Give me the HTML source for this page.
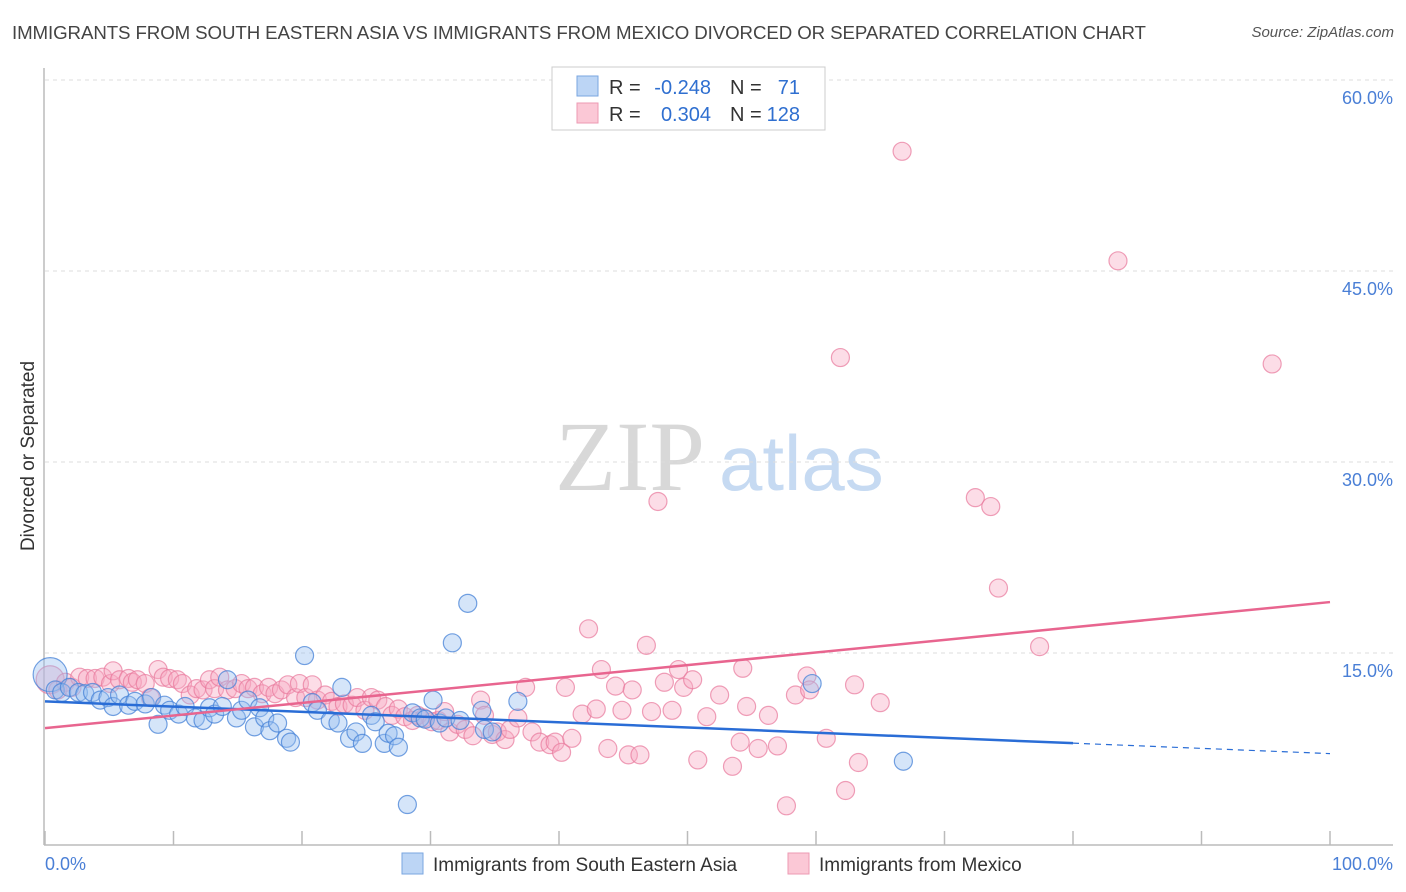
<!DOCTYPE html>
<html><head><meta charset="utf-8">
<style>
html,body{margin:0;padding:0;background:#fff;}
body{width:1406px;height:892px;position:relative;overflow:hidden;font-family:"Liberation Sans",sans-serif;}
#title{position:absolute;left:12px;top:22px;font-size:18.7px;color:#444;letter-spacing:-0.1px;}
#source{position:absolute;right:12px;top:24px;font-size:15px;color:#555;font-style:italic;}
svg{position:absolute;left:0;top:0;}
</style></head>
<body>
<div id="title">IMMIGRANTS FROM SOUTH EASTERN ASIA VS IMMIGRANTS FROM MEXICO DIVORCED OR SEPARATED CORRELATION CHART</div>
<div id="source">Source: ZipAtlas.com</div>
<svg id="chart" width="1406" height="892"></svg>
<script>
const yTicks=[15,30,45,60];
const yTickLabels=["15.0%","30.0%","45.0%","60.0%"];
const xTicks=[0,10,20,30,40,50,60,70,80,90,100];
const blueX=[0.4,0.8,1.3,1.9,2.6,3.1,3.7,4.3,4.9,5.3,5.8,6.5,7.0,7.8,8.3,8.8,9.3,9.7,10.4,10.9,11.7,12.3,12.8,13.2,13.8,14.2,14.9,15.3,15.8,16.3,16.7,17.1,17.5,18.1,18.8,19.1,20.2,20.8,21.2,22.2,22.8,23.1,23.7,24.2,24.7,25.4,25.7,26.4,26.7,27.2,27.5,28.2,28.6,29.2,29.6,30.2,30.7,31.2,31.7,32.3,32.9,34.0,34.2,34.8,36.8,59.7,66.8];
const blueY=[13.3,12.1,11.9,12.3,11.9,11.8,11.9,11.3,11.5,10.8,11.7,10.9,11.2,11.0,11.5,9.4,10.9,10.5,10.2,10.8,9.9,9.7,10.7,10.2,10.8,12.9,9.9,10.5,11.3,9.2,10.7,9.9,8.9,9.5,8.3,8.0,14.8,11.1,10.5,9.7,9.5,12.3,8.3,8.8,7.9,10.1,9.6,7.9,8.7,8.5,7.6,3.1,10.3,9.9,9.8,11.3,9.5,9.9,15.8,9.7,18.9,10.5,9.0,8.8,11.2,12.6,6.5];
const pinkX=[0.4,1.0,1.6,2.1,2.7,3.3,3.9,4.5,5.1,5.3,5.8,6.5,6.8,7.2,7.8,8.2,8.8,9.2,9.7,10.3,10.7,11.3,11.8,12.3,12.8,13.2,13.6,14.2,14.8,15.3,15.8,16.3,16.9,17.4,17.9,18.4,18.9,19.5,19.8,20.3,20.8,21.2,21.8,22.3,22.8,23.3,23.9,24.3,24.9,25.4,25.9,26.5,27.0,27.5,28.0,28.6,29.0,29.5,30.1,30.6,31.1,31.5,32.1,32.7,33.3,33.9,34.2,34.8,35.2,35.8,36.2,36.8,37.4,37.9,38.5,39.3,39.7,40.2,40.5,41.0,41.8,42.3,42.9,43.3,43.8,44.4,44.9,45.4,45.7,46.3,46.8,47.2,47.7,48.2,48.8,49.3,49.7,50.4,50.8,51.5,52.5,53.5,54.1,54.3,54.6,55.5,56.3,57.0,57.7,58.4,59.3,59.5,60.8,61.9,62.3,63.0,63.3,65.0,66.7,72.4,73.6,74.2,77.4,83.5,95.5];
const pinkY=[12.9,12.1,12.7,12.3,13.1,13.0,13.0,13.1,12.6,13.6,12.9,13.0,12.7,12.9,12.6,11.5,13.7,13.1,13.0,12.9,12.6,11.7,12.2,12.1,12.9,12.2,13.1,12.1,12.2,12.6,12.2,12.3,11.8,12.3,11.8,12.1,12.5,11.5,12.6,11.5,12.5,11.3,11.7,11.2,10.8,11.0,10.9,11.5,10.5,11.5,11.3,10.8,10.1,10.6,10.0,9.7,10.1,9.9,9.6,9.7,10.4,8.8,9.4,9.0,8.5,11.3,10.1,8.6,8.8,8.2,9.0,9.9,12.3,8.8,8.0,7.8,8.0,7.2,12.3,8.3,10.2,16.9,10.6,13.7,7.5,12.4,10.5,7.0,12.1,7.0,15.6,10.4,26.9,12.7,10.5,13.7,12.3,12.9,6.6,10.0,11.7,6.1,8.0,13.8,10.8,7.5,10.1,7.7,3.0,11.7,13.2,12.1,8.3,38.2,4.2,12.5,6.4,11.1,54.4,27.2,26.5,20.1,15.5,45.8,37.7];
const blueTrend=[11.2,7.1];
const blueTrendSolidEnd=80;
const pinkTrend=[9.1,19.0];

const svg=document.getElementById('chart');
const NS='http://www.w3.org/2000/svg';
const X0=45,X1=1330,Y0=844,PXPER=191/15;
const xs=v=>X0+(X1-X0)*v/100;
const ys=v=>Y0-v*PXPER;
function mk(tag,attrs,parent){const e=document.createElementNS(NS,tag);for(const k in attrs)e.setAttribute(k,attrs[k]);(parent||svg).appendChild(e);return e;}

let wm=mk('text',{x:555,y:490,'font-family':'Liberation Serif, serif','font-size':100,fill:'#d8d8d8'});
wm.textContent='ZIP';


let wm2=mk('text',{x:719,y:490,'font-family':'Liberation Sans, sans-serif','font-size':78,fill:'#c6daf2'});
wm2.textContent='atlas';



yTicks.forEach((t,i)=>{
  const g=mk('line',{x1:X0,x2:1393,y1:ys(t),y2:ys(t),stroke:'#ddd','stroke-dasharray':'4,4'});
  
  
  const tx=mk('text',{x:1393,y:ys(t)+24,'text-anchor':'end','font-size':18,fill:'#4a7fd6'});
  tx.textContent=yTickLabels[i];
  
  
});
let ax=mk('line',{x1:X0-1,x2:1393,y1:845,y2:845,stroke:'#bbb','stroke-width':1.5});


let ay=mk('line',{x1:X0-1,x2:X0-1,y1:68,y2:845,stroke:'#bbb','stroke-width':1.5});


xTicks.forEach(t=>{
  const l=mk('line',{x1:xs(t),x2:xs(t),y1:831,y2:845,stroke:'#bbb','stroke-width':1.5});
  
  
});
let xl0=mk('text',{x:45,y:870,'font-size':18,fill:'#4a7fd6'});xl0.textContent='0.0%';


let xl1=mk('text',{x:1393,y:870,'text-anchor':'end','font-size':18,fill:'#4a7fd6'});xl1.textContent='100.0%';


let yt=mk('text',{x:34,y:456,'text-anchor':'middle','font-size':19,fill:'#333',transform:'rotate(-90 34 456)'});yt.textContent='Divorced or Separated';



pinkX.forEach((x,i)=>{
  const c=mk('circle',{cx:xs(x),cy:ys(pinkY[i]),r:i===0?14:9,fill:'rgba(248,170,195,0.4)',stroke:'rgba(232,120,155,0.7)','stroke-width':1.2});
  
  
});
blueX.forEach((x,i)=>{
  const c=mk('circle',{cx:xs(x),cy:ys(blueY[i]),r:i===0?17:9,fill:'rgba(150,190,240,0.4)',stroke:'rgba(70,130,215,0.75)','stroke-width':1.2});
  
  
});
const bAt=x=>blueTrend[0]+(blueTrend[1]-blueTrend[0])*x/100;
let bl=mk('line',{x1:xs(0),y1:ys(bAt(0)),x2:xs(blueTrendSolidEnd),y2:ys(bAt(blueTrendSolidEnd)),stroke:'#2a6dd6','stroke-width':2.5});


let bd=mk('line',{x1:xs(blueTrendSolidEnd),y1:ys(bAt(blueTrendSolidEnd)),x2:xs(100),y2:ys(bAt(100)),stroke:'#2a6dd6','stroke-width':1.2,'stroke-dasharray':'6,5'});


let pl=mk('line',{x1:xs(0),y1:ys(pinkTrend[0]),x2:xs(100),y2:ys(pinkTrend[1]),stroke:'#e8658f','stroke-width':2.5});



const lg=mk('g',{});


mk('rect',{x:552,y:67,width:273,height:63,fill:'#fff',stroke:'#ccc'},lg);
mk('rect',{x:577,y:76,width:21,height:20,fill:'#bcd5f5',stroke:'#7aa6e0'},lg);
mk('rect',{x:577,y:103,width:21,height:20,fill:'#fbc8d6',stroke:'#ec9ab3'},lg);
[['R = ','-0.248','N = ','71',94],['R = ','0.304','N = ','128',121]].forEach(r=>{
  let a=mk('text',{x:609,y:r[4],'font-size':20,fill:'#333'},lg);a.textContent=r[0];
  let b=mk('text',{x:711,y:r[4],'font-size':20,fill:'#2f6fd0','text-anchor':'end'},lg);b.textContent=r[1];
  let c=mk('text',{x:730,y:r[4],'font-size':20,fill:'#333'},lg);c.textContent=r[2];
  let d=mk('text',{x:800,y:r[4],'font-size':20,fill:'#2f6fd0','text-anchor':'end'},lg);d.textContent=r[3];
});

const bl2=mk('g',{});


mk('rect',{x:402,y:853,width:21,height:21,fill:'#bcd5f5',stroke:'#7aa6e0'},bl2);
let t1=mk('text',{x:433,y:871,'font-size':19,fill:'#333'},bl2);t1.textContent='Immigrants from South Eastern Asia';
mk('rect',{x:788,y:853,width:21,height:21,fill:'#fbc8d6',stroke:'#ec9ab3'},bl2);
let t2=mk('text',{x:819,y:871,'font-size':19,fill:'#333'},bl2);t2.textContent='Immigrants from Mexico';
</script>
</body></html>
